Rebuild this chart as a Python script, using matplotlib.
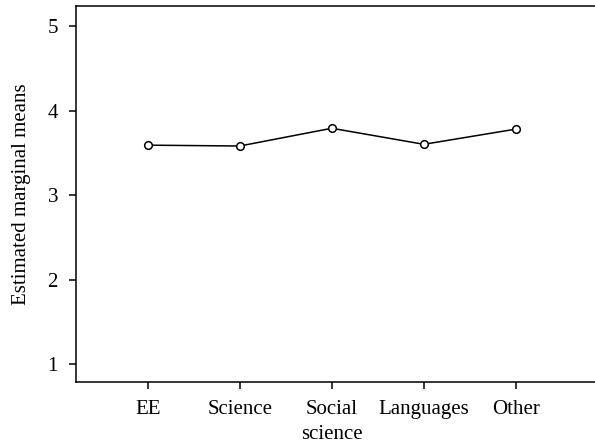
import matplotlib
matplotlib.use("Agg")
import matplotlib.pyplot as plt

categories = ["EE", "Science", "Social\nscience", "Languages", "Other"]
means = [3.59, 3.58, 3.79, 3.60, 3.78]
yticks = [1, 2, 3, 4, 5]

plt.rcParams['font.family'] = ['Liberation Serif', 'DejaVu Serif']

fig = plt.figure(figsize=(5.95, 4.44), dpi=100)
ax = fig.add_axes([76/595, 62/444, 1 - 76/595, 376/444])

x = list(range(1, len(categories) + 1))
ax.plot(x, means, color='black', linewidth=1.1, marker='o', markersize=5.5,
        markerfacecolor='white', markeredgecolor='black', markeredgewidth=1.1)

ax.set_xlim(0.22, 5.86)
ax.set_ylim(0.787, 5.237)
ax.set_xticks(x)
ax.set_xticklabels(categories, fontsize=15, linespacing=1.4)
ax.set_yticks(yticks)
ax.set_yticklabels([str(t) for t in yticks], fontsize=15)
ax.set_ylabel("Estimated marginal means", fontsize=15, labelpad=12)

ax.spines['right'].set_visible(False)
for s in ['left', 'bottom', 'top']:
    ax.spines[s].set_linewidth(1.1)
ax.tick_params(direction='out', length=5, width=1.1, pad=8)

fig.savefig("out.png", dpi=100)
